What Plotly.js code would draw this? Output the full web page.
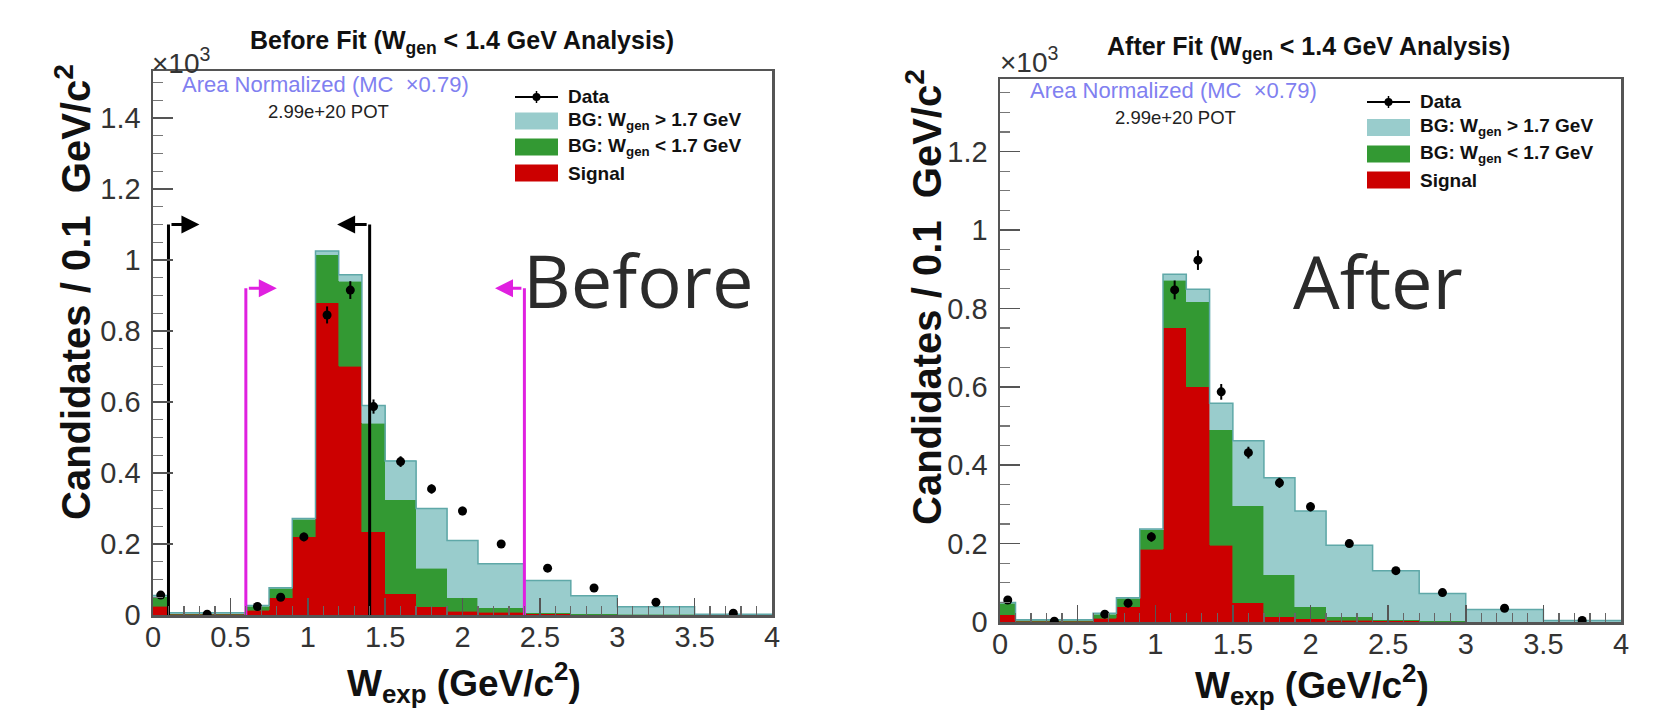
<!DOCTYPE html>
<html>
<head>
<meta charset="utf-8">
<script src="https://cdn.plot.ly/plotly-3.0.1.min.js"></script>
<style>html,body{margin:0;padding:0;background:#fff;}</style>
</head>
<body>
<div id="chart" style="width:1671px;height:718px;"></div>
<script>
// ---------------- DATA (units of 10^3 candidates / 0.1 GeV/c^2) ----------------
const binEdges = [0, 0.1, 0.6, 0.75, 0.9, 1.05, 1.2, 1.35, 1.5, 1.7, 1.9, 2.1, 2.4, 2.7, 3.0, 3.5, 4.0];

// Before fit
const beforeSignal = [0.025, 0.002, 0.014, 0.048, 0.220, 0.880, 0.700, 0.235, 0.060, 0.023, 0.010, 0.008, 0.003, 0.001, 0.001, 0.000];
const beforeBgLow  = [0.027, 0.002, 0.011, 0.027, 0.050, 0.134, 0.240, 0.305, 0.264, 0.109, 0.038, 0.012, 0.003, 0.002, 0.001, 0.0005];
const beforeBgHigh = [0.003, 0.002, 0.002, 0.002, 0.002, 0.011, 0.018, 0.050, 0.110, 0.168, 0.162, 0.124, 0.091, 0.051, 0.021, 0.0015];
const beforeData    = [0.056, 0.002, 0.024, 0.050, 0.220, 0.845, 0.915, 0.587, 0.432, 0.355, 0.293, 0.200, 0.132, 0.076, 0.036, 0.005];
const beforeDataErr = [0.007, 0.001, 0.004, 0.006, 0.012, 0.024, 0.025, 0.020, 0.015, 0.013, 0.012, 0.008, 0.007, 0.005, 0.003, 0.001];

// After fit
const afterSignal = [0.018, 0.002, 0.010, 0.039, 0.186, 0.750, 0.600, 0.196, 0.049, 0.013, 0.008, 0.005, 0.003, 0.001, 0.0005, 0.000];
const afterBgLow  = [0.030, 0.002, 0.010, 0.021, 0.049, 0.122, 0.217, 0.294, 0.247, 0.107, 0.031, 0.008, 0.003, 0.002, 0.0005, 0.0005];
const afterBgHigh = [0.002, 0.002, 0.002, 0.002, 0.002, 0.015, 0.032, 0.068, 0.166, 0.248, 0.244, 0.183, 0.125, 0.070, 0.031, 0.0035];
const afterData    = [0.056, 0.002, 0.020, 0.048, 0.217, 0.847, 0.923, 0.587, 0.432, 0.355, 0.294, 0.200, 0.131, 0.075, 0.035, 0.004];
const afterDataErr = [0.007, 0.001, 0.004, 0.006, 0.012, 0.024, 0.025, 0.020, 0.015, 0.013, 0.012, 0.008, 0.007, 0.005, 0.003, 0.001];

// Cut markers (Before panel): vertical position, bracket height, arrow tip
const blackCutX   = [0.1, 1.4];
const blackCutTop = [1.10, 1.10];
const blackCutTip = [0.30, 1.19];
const magentaCutX   = [0.6, 2.4];
const magentaCutTop = [0.92, 0.92];
const magentaCutTip = [0.80, 2.21];

const xTickVals = [0, 0.5, 1, 1.5, 2, 2.5, 3, 3.5, 4];
const xTickText = ['0', '0.5', '1', '1.5', '2', '2.5', '3', '3.5', '4'];
const yTickValsL = [0, 0.2, 0.4, 0.6, 0.8, 1, 1.2, 1.4];
const yTickTextL = ['0', '0.2', '0.4', '0.6', '0.8', '1', '1.2', '1.4'];
const yTickValsR = [0, 0.2, 0.4, 0.6, 0.8, 1, 1.2];
const yTickTextR = ['0', '0.2', '0.4', '0.6', '0.8', '1', '1.2'];

const legendLabels = ['Data', 'BG: W<sub>gen</sub> &gt; 1.7 GeV', 'BG: W<sub>gen</sub> &lt; 1.7 GeV', 'Signal'];

// ---------------- STYLE ----------------
const W = 1671, H = 718;
const FONT = 'Liberation Sans, Arial, Helvetica, sans-serif';
const C_SIG = '#cc0000', C_LOW = '#339933', C_HIGH = '#99cccc', C_HIGH_LINE = '#5fa8a8';
const C_MAG = '#e020e0';

const centers = binEdges.slice(0, -1).map((e, i) => (e + binEdges[i + 1]) / 2);
const widths = binEdges.slice(0, -1).map((e, i) => binEdges[i + 1] - e);

function px(x) { return x / W; }
function py(y) { return 1 - y / H; }

function stackTraces(sig, low, high, data, err, xa, ya) {
  const traces = [];
  const mk = (vals, color) => ({
    type: 'bar', x: centers, y: vals, width: widths, xaxis: xa, yaxis: ya,
    marker: { color: color, line: { color: color, width: 0.6 } },
    showlegend: false, hoverinfo: 'skip'
  });
  traces.push(mk(sig, C_SIG));
  traces.push(mk(low, C_LOW));
  traces.push(mk(high, C_HIGH));
  // teal outline along the stack top
  const tot = sig.map((v, i) => v + low[i] + high[i]);
  const sx = [], sy = [];
  tot.forEach((v, i) => { sx.push(binEdges[i], binEdges[i + 1]); sy.push(v, v); });
  traces.push({ type: 'scatter', mode: 'lines', x: sx, y: sy, xaxis: xa, yaxis: ya,
    line: { color: C_HIGH_LINE, width: 1.5 }, showlegend: false, hoverinfo: 'skip' });
  traces.push({ type: 'scatter', mode: 'markers', x: centers, y: data, xaxis: xa, yaxis: ya,
    marker: { color: '#000', size: 9 },
    error_y: { type: 'data', array: err, visible: true, color: '#000', thickness: 2, width: 0 },
    showlegend: false, hoverinfo: 'skip' });
  return traces;
}

let traces = [];
traces = traces.concat(stackTraces(beforeSignal, beforeBgLow, beforeBgHigh, beforeData, beforeDataErr, 'x', 'y'));
traces = traces.concat(stackTraces(afterSignal, afterBgLow, afterBgHigh, afterData, afterDataErr, 'x2', 'y2'));

const annotations = [];
// cut brackets (vertical part as traces, horizontal arrow as annotation)
function cutLines(xs, tops, tips, color) {
  xs.forEach((x, i) => {
    traces.push({ type: 'scatter', mode: 'lines', x: [x, x, x], y: [0, tops[i], tops[i]], xaxis: 'x', yaxis: 'y',
      line: { color: color, width: 3 }, showlegend: false, hoverinfo: 'skip' });
    annotations.push({ xref: 'x', yref: 'y', axref: 'x', ayref: 'y', x: tips[i], y: tops[i], ax: x, ay: tops[i],
      text: ' ', showarrow: true, arrowhead: 2, arrowsize: 1.2, arrowwidth: 3, arrowcolor: color, standoff: 0 });
  });
}
cutLines(blackCutX, blackCutTop, blackCutTip, '#000');
cutLines(magentaCutX, magentaCutTop, magentaCutTip, C_MAG);

function ann(text, x, y, size, o) {
  o = o || {};
  annotations.push(Object.assign({
    xref: 'paper', yref: 'paper', x: px(x), y: py(y), text: text, showarrow: false,
    xanchor: 'left', yanchor: 'middle',
    font: { family: FONT, size: size, color: '#222' }
  }, o));
}

const shapes = [];
function legend(x0, rows) {
  const fills = [null, C_HIGH, C_LOW, C_SIG];
  const bw = 43, bh = 17;
  shapes.push({ type: 'line', xref: 'paper', yref: 'paper', x0: px(x0), x1: px(x0 + bw), y0: py(rows[0]), y1: py(rows[0]),
    line: { color: '#000', width: 2 } });
  shapes.push({ type: 'circle', xref: 'paper', yref: 'paper', x0: px(x0 + bw / 2 - 4), x1: px(x0 + bw / 2 + 4),
    y0: py(rows[0] - 4), y1: py(rows[0] + 4), fillcolor: '#000', line: { width: 0 } });
  shapes.push({ type: 'line', xref: 'paper', yref: 'paper', x0: px(x0 + bw / 2), x1: px(x0 + bw / 2), y0: py(rows[0] - 6), y1: py(rows[0] + 6),
    line: { color: '#000', width: 1.5 } });
  for (let i = 1; i < 4; i++) {
    shapes.push({ type: 'rect', xref: 'paper', yref: 'paper', x0: px(x0), x1: px(x0 + bw),
      y0: py(rows[i] - bh / 2), y1: py(rows[i] + bh / 2), fillcolor: fills[i], line: { width: 0 } });
  }
  legendLabels.forEach((t, i) => ann('<b>' + t + '</b>', x0 + bw + 8, rows[i], 19, { font: { family: FONT, size: 19, color: '#111' } }));
}

// Left panel texts
ann('<b>Before Fit (W<sub>gen</sub> &lt; 1.4 GeV Analysis)</b>', 462, 42, 25, { xanchor: 'center', font: { family: FONT, size: 25, color: '#111' } });
ann('×10<sup>3</sup>', 150, 61, 28, { font: { family: FONT, size: 28, color: '#333' } });
ann('Area Normalized (MC\u00a0\u00a0×0.79)', 180, 85, 22, { font: { family: FONT, size: 22, color: '#8080f0' } });
ann('2.99e+20 POT', 266, 112, 18.5, { font: { family: FONT, size: 18.5, color: '#222' } });
legend(515, [97, 121, 147, 173]);
ann('<b>Candidates / 0.1\u00a0\u00a0GeV/c<sup>2</sup></b>', 73, 292, 40, { xanchor: 'center', textangle: -90, font: { family: FONT, size: 40, color: '#111' } });
ann('<b>W<sub>exp</sub> (GeV/c<sup>2</sup>)</b>', 464, 682, 37, { xanchor: 'center', font: { family: FONT, size: 37, color: '#111' } });
ann('Before', 638, 279, 74, { xanchor: 'center', font: { family: 'Open Sans, DejaVu Sans, sans-serif', size: 74, color: '#2b2b2b' } });

// Right panel texts
ann('<b>After Fit (W<sub>gen</sub> &lt; 1.4 GeV Analysis)</b>', 1308, 48, 25, { xanchor: 'center', font: { family: FONT, size: 25, color: '#111' } });
ann('×10<sup>3</sup>', 998, 60, 28, { font: { family: FONT, size: 28, color: '#333' } });
ann('Area Normalized (MC\u00a0\u00a0×0.79)', 1028, 91, 22, { font: { family: FONT, size: 22, color: '#8080f0' } });
ann('2.99e+20 POT', 1113, 118, 18.5, { font: { family: FONT, size: 18.5, color: '#222' } });
legend(1367, [102, 127.5, 154, 180]);
ann('<b>Candidates / 0.1\u00a0\u00a0GeV/c<sup>2</sup></b>', 924, 297, 40, { xanchor: 'center', textangle: -90, font: { family: FONT, size: 40, color: '#111' } });
ann('<b>W<sub>exp</sub> (GeV/c<sup>2</sup>)</b>', 1312, 684, 37, { xanchor: 'center', font: { family: FONT, size: 37, color: '#111' } });
ann('After', 1378, 280, 74, { xanchor: 'center', font: { family: 'Open Sans, DejaVu Sans, sans-serif', size: 74, color: '#2b2b2b' } });

function xAxis(domain, anchor) {
  return {
    domain: domain, anchor: anchor, range: [0, 4], tickvals: xTickVals, ticktext: xTickText,
    ticks: 'inside', ticklen: 17, tickwidth: 1.5, tickcolor: '#555',
    minor: { dtick: 0.1, tick0: 0, ticks: 'inside', ticklen: 9, tickwidth: 1.2, tickcolor: '#666', showgrid: false },
    showline: true, mirror: true, linecolor: '#555', linewidth: 2.5,
    showgrid: false, zeroline: false, fixedrange: true, ticklabelstandoff: -5,
    tickfont: { family: FONT, size: 29, color: '#333' }
  };
}
function yAxis(domain, anchor, top, vals, text) {
  return {
    domain: domain, anchor: anchor, range: [0, top], tickvals: vals, ticktext: text,
    ticks: 'inside', ticklen: 20, tickwidth: 1.5, tickcolor: '#555',
    minor: { dtick: 0.05, tick0: 0, ticks: 'inside', ticklen: 10, tickwidth: 1.2, tickcolor: '#777', showgrid: false },
    showline: true, mirror: true, linecolor: '#555', linewidth: 2.5,
    showgrid: false, zeroline: false, fixedrange: true, ticklabelstandoff: 4,
    tickfont: { family: FONT, size: 29, color: '#333' }
  };
}

const layout = {
  width: W, height: H,
  margin: { l: 0, r: 0, t: 0, b: 0 },
  paper_bgcolor: '#fff', plot_bgcolor: '#fff',
  barmode: 'stack', bargap: 0,
  showlegend: false,
  xaxis: xAxis([px(153), px(772)], 'y'),
  yaxis: yAxis([py(615), py(71)], 'x', 1.532, yTickValsL, yTickTextL),
  xaxis2: xAxis([px(1000), px(1621)], 'y2'),
  yaxis2: yAxis([py(622), py(79)], 'x2', 1.385, yTickValsR, yTickTextR),
  annotations: annotations,
  shapes: shapes
};

Plotly.newPlot('chart', traces, layout, { displayModeBar: false, staticPlot: true });
</script>
</body>
</html>
